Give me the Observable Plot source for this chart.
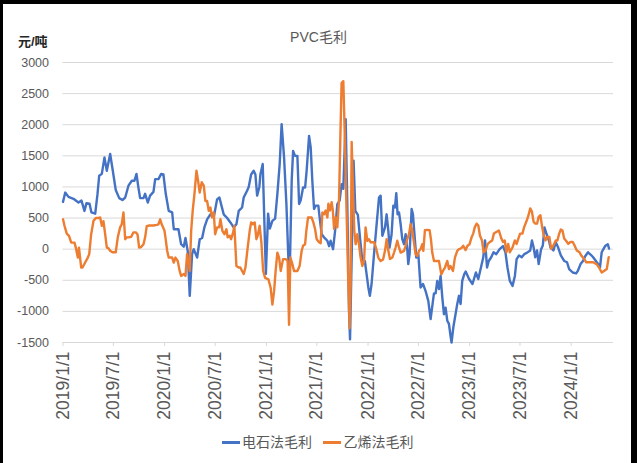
<!DOCTYPE html>
<html><head><meta charset="utf-8">
<script src="https://cdn.jsdelivr.net/npm/d3@7"></script>
<script src="https://cdn.jsdelivr.net/npm/@observablehq/plot@0.6"></script>
<style>
html,body{margin:0;padding:0;background:#fff;}
#wrap{position:relative;width:637px;height:463px;overflow:hidden;font-family:"Liberation Sans",Arial,"Noto Sans CJK SC",sans-serif;}
#frame{position:absolute;left:0;top:0;width:637px;height:463px;box-sizing:border-box;border-top:4px solid #000;border-left:3px solid #000;border-right:6px solid #000;pointer-events:none;}
#title{position:absolute;top:29px;left:0;width:637px;text-align:center;font-size:14px;line-height:16px;color:#595959;}
#unit{position:absolute;left:18px;top:34px;font-size:13px;line-height:16px;font-weight:bold;color:#262626;}
.lg{position:absolute;top:434px;font-size:14px;line-height:16px;color:#595959;white-space:nowrap;}
.sw{position:absolute;top:441px;height:3px;width:18px;}
#chart{position:absolute;left:0;top:0;}
</style></head>
<body>
<div id="wrap">
  <div id="chart"></div>
  <div id="title"></div>
  <div id="unit"></div>
  <div id="legend"></div>
  <div id="frame"></div>
</div>
<script>
// ---- data (time as decimal year, value in 元/吨) ----
const chartTitle = "PVC毛利";
const unitLabel = "元/吨";
const seriesNames = ["电石法毛利", "乙烯法毛利"];
const seriesColors = ["#4472C4", "#ED7D31"];
const yTicks = [-1500, -1000, -500, 0, 500, 1000, 1500, 2000, 2500, 3000];
const xTickLabels = ["2019/1/1","2019/7/1","2020/1/1","2020/7/1","2021/1/1","2021/7/1","2022/1/1","2022/7/1","2023/1/1","2023/7/1","2024/1/1"];

const carbideSeries = [[2019.000,760],[2019.022,910],[2019.054,840],[2019.103,810],[2019.152,750],[2019.182,780],[2019.211,615],[2019.231,740],[2019.261,730],[2019.280,590],[2019.317,570],[2019.339,880],[2019.356,1180],[2019.382,1210],[2019.408,1475],[2019.431,1260],[2019.464,1530],[2019.490,1260],[2019.519,950],[2019.553,820],[2019.585,790],[2019.612,830],[2019.644,1020],[2019.677,1100],[2019.703,1100],[2019.723,1210],[2019.742,990],[2019.759,820],[2019.792,820],[2019.808,890],[2019.834,750],[2019.857,860],[2019.890,920],[2019.907,1125],[2019.939,1125],[2019.966,1210],[2019.988,1200],[2020.011,890],[2020.040,615],[2020.074,590],[2020.090,320],[2020.136,320],[2020.162,80],[2020.188,40],[2020.205,180],[2020.227,-30],[2020.247,-750],[2020.270,-80],[2020.286,0],[2020.320,-135],[2020.345,160],[2020.369,180],[2020.391,350],[2020.418,480],[2020.450,560],[2020.483,510],[2020.516,800],[2020.539,830],[2020.559,700],[2020.581,560],[2020.615,500],[2020.647,430],[2020.679,350],[2020.706,400],[2020.729,615],[2020.762,670],[2020.778,830],[2020.811,940],[2020.827,1000],[2020.851,1200],[2020.876,1260],[2020.893,1200],[2020.910,860],[2020.932,1000],[2020.942,1200],[2020.965,1370],[2020.996,-400],[2021.018,570],[2021.035,330],[2021.060,455],[2021.087,490],[2021.109,885],[2021.132,1370],[2021.151,2010],[2021.175,1475],[2021.198,725],[2021.217,-135],[2021.230,-455],[2021.250,1100],[2021.264,1580],[2021.283,1500],[2021.306,1500],[2021.323,725],[2021.338,780],[2021.362,990],[2021.382,990],[2021.397,1260],[2021.421,1820],[2021.437,1635],[2021.453,1100],[2021.470,645],[2021.486,700],[2021.512,700],[2021.525,510],[2021.545,240],[2021.568,190],[2021.601,135],[2021.618,50],[2021.633,135],[2021.657,0],[2021.677,295],[2021.699,725],[2021.722,780],[2021.741,1045],[2021.758,970],[2021.781,2090],[2021.797,725],[2021.814,-990],[2021.824,-1450],[2021.859,1420],[2021.876,615],[2021.901,550],[2021.925,135],[2021.945,-190],[2021.970,-190],[2022.004,-615],[2022.019,-750],[2022.036,-560],[2022.060,-80],[2022.083,350],[2022.109,830],[2022.125,860],[2022.142,215],[2022.168,350],[2022.184,560],[2022.201,295],[2022.213,25],[2022.233,240],[2022.250,700],[2022.266,670],[2022.279,900],[2022.292,560],[2022.306,590],[2022.322,400],[2022.338,160],[2022.355,80],[2022.371,240],[2022.387,0],[2022.397,-240],[2022.410,-80],[2022.430,645],[2022.443,560],[2022.463,135],[2022.476,-135],[2022.496,-80],[2022.518,-615],[2022.542,-560],[2022.567,-670],[2022.594,-830],[2022.617,-1125],[2022.640,-830],[2022.650,-710],[2022.666,-710],[2022.682,-510],[2022.699,-640],[2022.715,-430],[2022.732,-780],[2022.748,-1045],[2022.764,-940],[2022.781,-1150],[2022.797,-1200],[2022.813,-1395],[2022.823,-1500],[2022.840,-1260],[2022.862,-1045],[2022.879,-880],[2022.896,-750],[2022.912,-880],[2022.928,-510],[2022.948,-400],[2022.962,-360],[2022.995,-480],[2023.029,-560],[2023.062,-375],[2023.086,-480],[2023.112,-295],[2023.135,-130],[2023.152,140],[2023.172,-295],[2023.189,-190],[2023.213,-130],[2023.236,-50],[2023.263,-80],[2023.296,0],[2023.329,50],[2023.353,-50],[2023.373,-295],[2023.396,-510],[2023.423,-590],[2023.446,-430],[2023.463,-160],[2023.487,-100],[2023.513,-130],[2023.538,-80],[2023.563,-60],[2023.597,-20],[2023.614,140],[2023.630,30],[2023.646,-130],[2023.664,-20],[2023.680,-240],[2023.704,0],[2023.721,60],[2023.737,350],[2023.758,240],[2023.781,140],[2023.797,25],[2023.825,-20],[2023.848,110],[2023.871,30],[2023.898,-100],[2023.931,-190],[2023.959,-210],[2023.980,-320],[2024.015,-375],[2024.049,-390],[2024.065,-350],[2024.092,-240],[2024.116,-190],[2024.139,-110],[2024.166,-50],[2024.193,-90],[2024.216,-130],[2024.243,-190],[2024.266,-240],[2024.283,-295],[2024.300,-50],[2024.317,0],[2024.334,50],[2024.360,80],[2024.372,10]];

const ethyleneSeries = [[2019.000,480],[2019.015,375],[2019.037,250],[2019.059,215],[2019.081,105],[2019.113,105],[2019.126,25],[2019.146,-135],[2019.157,25],[2019.179,-295],[2019.192,-295],[2019.218,-215],[2019.244,-135],[2019.258,-80],[2019.277,240],[2019.300,455],[2019.323,500],[2019.349,500],[2019.366,510],[2019.382,375],[2019.398,450],[2019.415,240],[2019.431,25],[2019.447,15],[2019.464,-25],[2019.487,-50],[2019.519,-50],[2019.539,190],[2019.562,350],[2019.578,400],[2019.595,590],[2019.612,160],[2019.627,190],[2019.644,190],[2019.671,200],[2019.693,270],[2019.716,270],[2019.733,240],[2019.749,25],[2019.769,35],[2019.792,80],[2019.808,190],[2019.824,370],[2019.848,380],[2019.873,380],[2019.890,380],[2019.922,390],[2019.939,400],[2019.956,480],[2019.971,400],[2019.998,300],[2020.008,190],[2020.025,-25],[2020.040,-135],[2020.074,-135],[2020.090,-215],[2020.106,-135],[2020.129,-190],[2020.148,-350],[2020.162,-430],[2020.188,-400],[2020.205,-430],[2020.221,-80],[2020.237,-240],[2020.247,-350],[2020.261,295],[2020.276,615],[2020.293,885],[2020.313,1260],[2020.329,1100],[2020.345,910],[2020.365,1075],[2020.385,1020],[2020.401,775],[2020.418,775],[2020.434,615],[2020.450,670],[2020.467,510],[2020.483,590],[2020.497,240],[2020.516,350],[2020.536,350],[2020.549,480],[2020.568,295],[2020.588,240],[2020.608,320],[2020.620,190],[2020.640,215],[2020.654,160],[2020.674,270],[2020.686,375],[2020.706,-270],[2020.729,-295],[2020.745,-295],[2020.762,-350],[2020.778,-400],[2020.795,-295],[2020.817,25],[2020.837,295],[2020.851,430],[2020.870,400],[2020.886,430],[2020.903,160],[2020.915,215],[2020.935,375],[2020.952,105],[2020.969,-350],[2020.988,-460],[2021.021,-485],[2021.043,-620],[2021.060,-890],[2021.077,-675],[2021.092,-350],[2021.109,-55],[2021.126,-135],[2021.142,-350],[2021.165,-160],[2021.191,-160],[2021.210,-190],[2021.224,-1215],[2021.237,-135],[2021.257,-240],[2021.273,-350],[2021.306,-350],[2021.328,-270],[2021.348,-27],[2021.362,55],[2021.382,80],[2021.394,295],[2021.411,510],[2021.431,510],[2021.446,510],[2021.463,430],[2021.480,325],[2021.496,160],[2021.519,110],[2021.535,95],[2021.552,590],[2021.568,560],[2021.584,620],[2021.601,510],[2021.611,730],[2021.627,620],[2021.643,755],[2021.655,620],[2021.667,325],[2021.682,510],[2021.699,350],[2021.716,810],[2021.729,1810],[2021.741,2670],[2021.758,2700],[2021.771,1915],[2021.788,730],[2021.804,-350],[2021.820,-1270],[2021.830,-565],[2021.840,1725],[2021.853,1000],[2021.866,295],[2021.879,80],[2021.896,240],[2021.912,80],[2021.928,-135],[2021.945,-270],[2021.962,-190],[2021.977,350],[2021.994,135],[2022.011,160],[2022.027,110],[2022.063,110],[2022.083,0],[2022.102,-135],[2022.125,-190],[2022.149,-165],[2022.168,-27],[2022.184,160],[2022.201,-27],[2022.217,-160],[2022.240,-135],[2022.257,-55],[2022.272,27],[2022.289,135],[2022.306,27],[2022.322,-55],[2022.355,-27],[2022.371,55],[2022.387,160],[2022.404,240],[2022.420,400],[2022.437,295],[2022.453,110],[2022.469,-80],[2022.486,-110],[2022.502,-27],[2022.518,0],[2022.535,80],[2022.545,-27],[2022.561,305],[2022.584,310],[2022.607,305],[2022.620,160],[2022.633,-55],[2022.650,-190],[2022.699,-190],[2022.722,-405],[2022.738,-350],[2022.758,-295],[2022.781,-190],[2022.797,-320],[2022.813,-270],[2022.837,-350],[2022.856,-135],[2022.879,-27],[2022.896,0],[2022.918,15],[2022.938,55],[2022.961,-15],[2022.980,55],[2023.000,80],[2023.020,190],[2023.036,250],[2023.051,350],[2023.069,410],[2023.086,380],[2023.102,220],[2023.122,140],[2023.139,-50],[2023.155,-30],[2023.179,85],[2023.196,110],[2023.223,140],[2023.239,250],[2023.263,275],[2023.289,300],[2023.313,170],[2023.329,115],[2023.346,140],[2023.363,-50],[2023.380,85],[2023.396,-50],[2023.423,30],[2023.446,140],[2023.463,85],[2023.480,170],[2023.497,250],[2023.520,250],[2023.537,355],[2023.558,440],[2023.580,545],[2023.597,655],[2023.614,600],[2023.630,440],[2023.647,410],[2023.664,410],[2023.680,520],[2023.697,545],[2023.714,355],[2023.731,220],[2023.747,140],[2023.764,195],[2023.785,195],[2023.803,5],[2023.825,60],[2023.848,140],[2023.864,140],[2023.882,250],[2023.898,315],[2023.914,300],[2023.931,170],[2023.948,140],[2023.971,85],[2023.992,115],[2024.015,115],[2024.033,60],[2024.055,-20],[2024.082,-50],[2024.098,-100],[2024.126,-155],[2024.148,-210],[2024.181,-210],[2024.216,-210],[2024.250,-240],[2024.272,-290],[2024.300,-375],[2024.323,-350],[2024.350,-320],[2024.369,-130]];

// ---- helpers ----
const DAY = 864e5;
const yearToDate = t => new Date(Date.UTC(2019, 0, 1) + (t - 2019) * 365.2 * DAY);
const parseLabel = s => { const [y, m, d] = s.split("/").map(Number); return new Date(Date.UTC(y, m - 1, d)); };
const xTickDates = xTickLabels.map(parseLabel);
const labelByTime = new Map(xTickDates.map((d, i) => [+d, xTickLabels[i]]));
const toRows = (arr, name) => arr.map(([t, v]) => ({date: yearToDate(t), value: v, series: name}));
const carbide = toRows(carbideSeries, seriesNames[0]);
const ethylene = toRows(ethyleneSeries, seriesNames[1]);

const FONT = '"Liberation Sans", Arial, "Noto Sans CJK SC", sans-serif';

const chart = Plot.plot({
  width: 637,
  height: 463,
  marginLeft: 62.5,
  marginRight: 24,
  marginTop: 62,
  marginBottom: 121,
  style: {background: "transparent", fontFamily: FONT, color: "#595959", overflow: "visible"},
  x: {type: "utc", domain: [new Date(Date.UTC(2019, 0, 1)), new Date(Date.UTC(2024, 5, 1))], label: null},
  y: {domain: [-1500, 3000], label: null},
  marks: [
    Plot.gridY(yTicks, {stroke: "#d9d9d9", strokeOpacity: 1, strokeWidth: 1}),
    Plot.ruleY([-1500], {stroke: "#d9d9d9", strokeWidth: 1}),
    Plot.axisY(yTicks, {label: null, tickSize: 0, tickPadding: 14, fontSize: 12.5, fill: "#595959", tickFormat: d => String(d)}),
    Plot.axisX(xTickDates, {label: null, tickSize: 4, tickPadding: 5, tickRotate: -90, fontSize: 17.5, stroke: "#d9d9d9", fill: "#595959", tickFormat: d => labelByTime.get(+d)}),
    Plot.line(carbide, {x: "date", y: "value", stroke: seriesColors[0], strokeWidth: 2.4, strokeLinejoin: "round", curve: "linear"}),
    Plot.line(ethylene, {x: "date", y: "value", stroke: seriesColors[1], strokeWidth: 2.4, strokeLinejoin: "round", curve: "linear"})
  ]
});
document.getElementById("chart").appendChild(chart);

document.getElementById("title").textContent = chartTitle;
document.getElementById("unit").textContent = unitLabel;

const legend = document.getElementById("legend");
const legendPos = [{sw: 221.5, tx: 242}, {sw: 323, tx: 343.5}];
seriesNames.forEach((name, i) => {
  const sw = document.createElement("div");
  sw.className = "sw";
  sw.style.left = legendPos[i].sw + "px";
  sw.style.background = seriesColors[i];
  legend.appendChild(sw);
  const tx = document.createElement("div");
  tx.className = "lg";
  tx.style.left = legendPos[i].tx + "px";
  tx.textContent = name;
  legend.appendChild(tx);
});
</script>
</body></html>
